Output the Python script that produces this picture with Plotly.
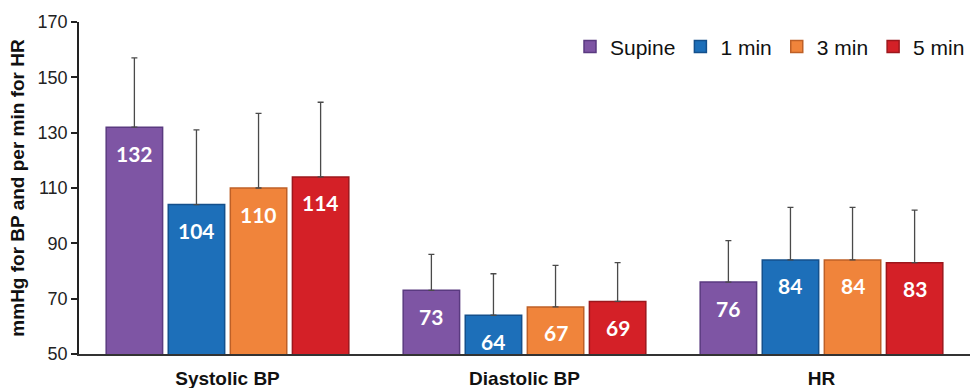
import plotly.graph_objects as go

# Measurements per position, grouped by outcome
categories = ["Systolic BP", "Diastolic BP", "HR"]
series_names = ["Supine", "1 min", "3 min", "5 min"]
means = {
    "Supine": [132, 73, 76],
    "1 min": [104, 64, 84],
    "3 min": [110, 67, 84],
    "5 min": [114, 69, 83],
}
upper_sd = {
    "Supine": [25, 13, 15],
    "1 min": [27, 15, 19],
    "3 min": [27, 15, 19],
    "5 min": [27, 14, 19],
}
y_ticks = [50, 70, 90, 110, 130, 150, 170]

fill_colors = ["#7E55A4", "#1D6FB9", "#F0843B", "#D42027"]
edge_colors = ["#5A3A80", "#14508C", "#BE6027", "#9C171C"]

bar_width = 0.19
pitch = 0.209
offsets = [(k - 1.5) * pitch for k in range(4)]

fig = go.Figure()
annotations = []
for k, name in enumerate(series_names):
    fig.add_trace(go.Bar(
        name=name,
        x=categories,
        y=means[name],
        width=bar_width,
        offset=offsets[k] - bar_width / 2,
        marker=dict(color=fill_colors[k], line=dict(color=edge_colors[k], width=1.5)),
        error_y=dict(type="data", symmetric=False, array=upper_sd[name],
                     arrayminus=[0] * len(categories), color="#4a4a4a",
                     thickness=1.3, width=3),
        hoverinfo="skip",
    ))
    for i, v in enumerate(means[name]):
        annotations.append(dict(
            x=i + offsets[k], y=v, xref="x", yref="y",
            text=f"<b>{v}</b>", showarrow=False, yanchor="middle", yshift=-26,
            font=dict(family="Lato, Arial, sans-serif", size=21, color="white"),
        ))

fig.update_layout(
    width=972, height=388,
    margin=dict(l=79, r=2, t=22, b=34),
    paper_bgcolor="white", plot_bgcolor="white",
    barmode="overlay",
    font=dict(family="Arial, Liberation Sans, sans-serif", color="#222"),
    showlegend=True,
    legend=dict(orientation="h", x=1, xanchor="right", y=0.925, yanchor="middle",
                font=dict(size=21, color="#111"), itemwidth=30,
                bgcolor="rgba(0,0,0,0)", traceorder="normal"),
    annotations=annotations,
)
fig.update_xaxes(
    type="category", range=[-0.5, 2.5], automargin=False,
    showline=True, linecolor="#333", linewidth=1.5,
    ticks="", showgrid=False, ticklabelstandoff=6,
    tickfont=dict(size=19, color="#111"),
    tickvals=categories, ticktext=[f"<b>{c}</b>" for c in categories],
)
fig.update_yaxes(
    range=[50, 170], tickvals=y_ticks, automargin=False,
    showline=True, linecolor="#222", linewidth=1.5,
    ticks="outside", ticklen=6, tickcolor="#222", tickwidth=1.5,
    showgrid=False, zeroline=False,
    tickfont=dict(size=18, color="#222"),
    title=dict(text="<b>mmHg for BP and per min for HR</b>",
               font=dict(size=19, color="#111"), standoff=8),
)

fig.write_html("out.html")
